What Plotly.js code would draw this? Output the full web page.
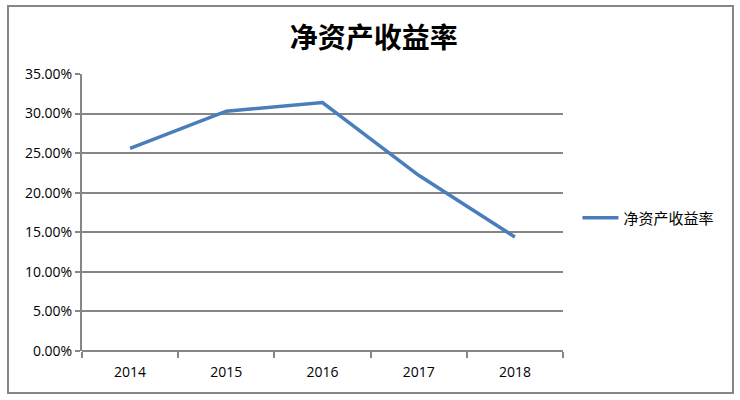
<!DOCTYPE html>
<html>
<head>
<meta charset="utf-8">
<script src="https://cdn.plot.ly/plotly-3.0.1.min.js"></script>
<style>
  body { margin: 0; background: #ffffff; }
  #chart { width: 740px; height: 400px; }
</style>
</head>
<body>
<div id="chart"></div>
<script>
// Datos del grafico
const years = ['2014', '2015', '2016', '2017', '2018'];
const roe = [0.256, 0.303, 0.314, 0.222, 0.144];
const seriesName = '净资产收益率';
const chartTitle = '净资产收益率';

const gridGray = '#868686';
const lineBlue = '#4a7ebb';

const trace = {
    x: years,
    y: roe,
    type: 'scatter',
    mode: 'lines',
    name: seriesName,
    line: { color: lineBlue, width: 3.5 }
};

const layout = {
    width: 740,
    height: 400,
    paper_bgcolor: '#ffffff',
    plot_bgcolor: '#ffffff',
    margin: { l: 82, r: 177, t: 74, b: 49 },
    font: { family: "'Open Sans', 'Noto Sans CJK SC', sans-serif", size: 14, color: '#000000' },
    title: {
        text: chartTitle,
        font: { family: "'Noto Sans CJK SC', sans-serif", size: 28, color: '#000000', weight: 'bold' },
        x: 0.505, xref: 'container', xanchor: 'center',
        y: 0.905, yref: 'container', yanchor: 'middle'
    },
    showlegend: true,
    legend: {
        x: 1.03, xanchor: 'left',
        y: 0.48, yanchor: 'middle',
        font: { family: "'Noto Sans CJK SC', sans-serif", size: 15, color: '#000000' },
        bgcolor: 'rgba(0,0,0,0)',
        itemwidth: 36
    },
    xaxis: {
        type: 'category',
        range: [-0.5, years.length - 0.5],
        showgrid: false,
        zeroline: false,
        showline: false,
        ticks: 'outside',
        tickson: 'boundaries',
        ticklen: 6,
        tickwidth: 2,
        tickcolor: gridGray,
        ticklabelstandoff: 11,
        tickfont: { size: 14 }
    },
    yaxis: {
        range: [0, 0.35],
        dtick: 0.05,
        tick0: 0,
        tickformat: '.2%',
        showgrid: true,
        gridcolor: gridGray,
        gridwidth: 2,
        zeroline: false,
        showline: true,
        linecolor: gridGray,
        linewidth: 2,
        ticks: 'outside',
        ticklen: 5,
        tickwidth: 2,
        tickcolor: gridGray,
        tickfont: { size: 14 }
    },
    shapes: [
        // linea base del eje X
        { type: 'line', xref: 'paper', yref: 'paper', x0: 0, x1: 1, y0: 0, y1: 0,
          line: { color: gridGray, width: 2 } },
        // borde exterior del grafico
        { type: 'rect', xref: 'paper', yref: 'paper',
          x0: -0.1538, x1: 1.3534, y0: -0.1516, y1: 1.2455,
          line: { color: gridGray, width: 2 }, fillcolor: 'rgba(0,0,0,0)', layer: 'below' }
    ]
};

Plotly.newPlot('chart', [trace], layout, { displayModeBar: false, staticPlot: true });
</script>
</body>
</html>
